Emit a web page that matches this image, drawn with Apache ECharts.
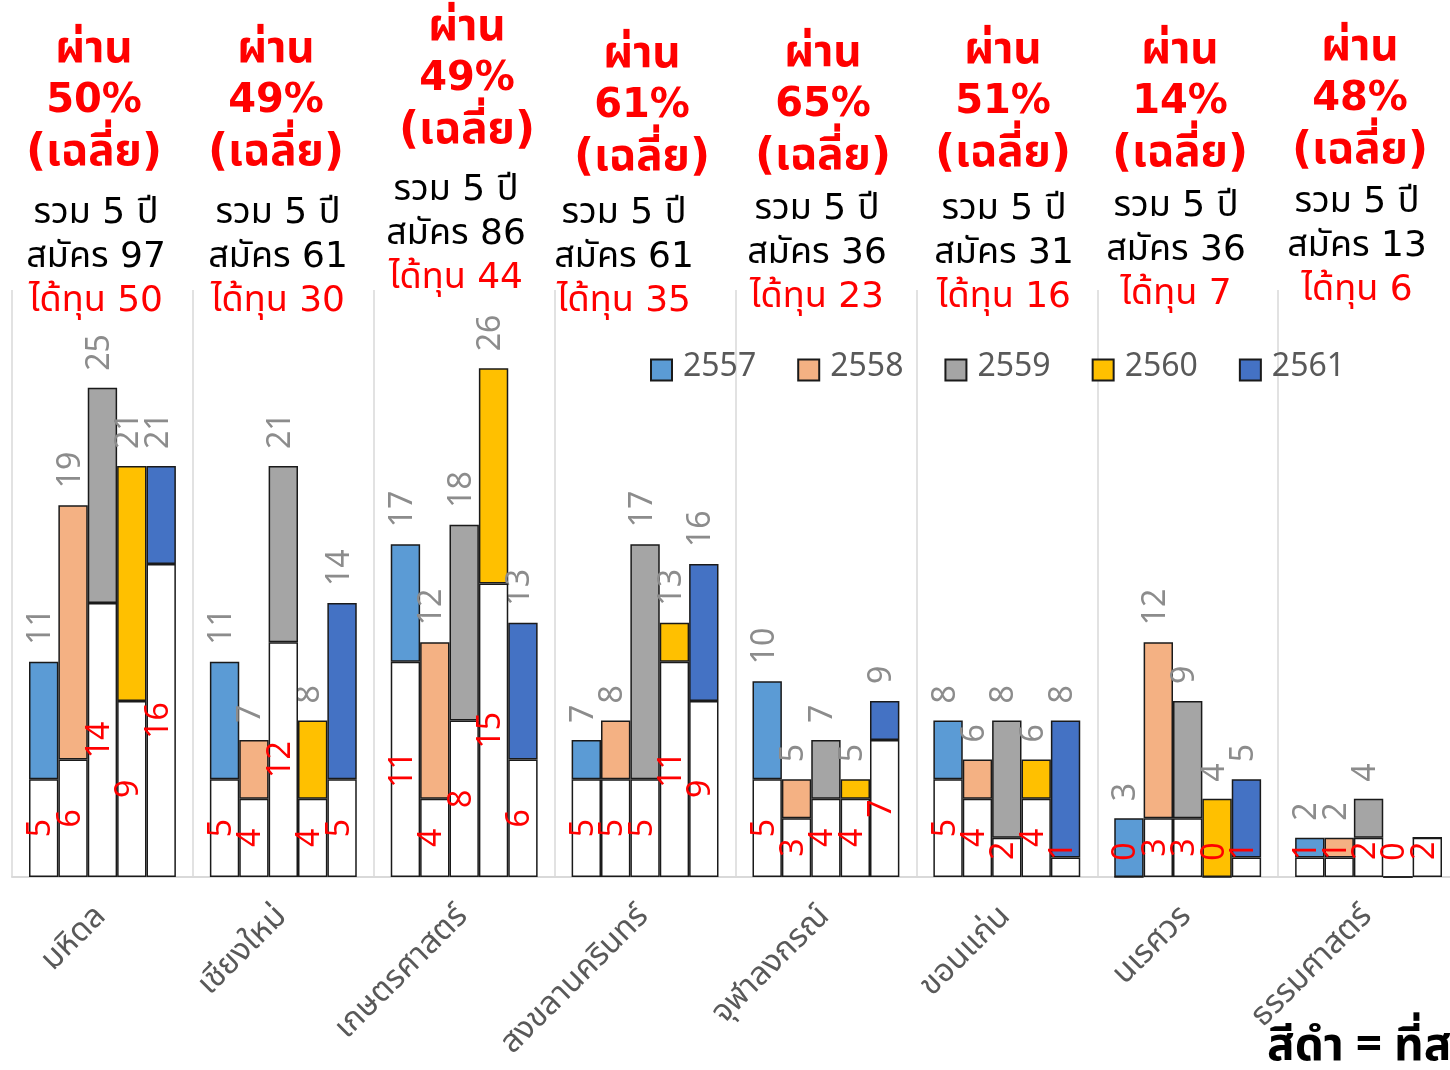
<!DOCTYPE html>
<html>
<head>
<meta charset="utf-8">
<script src="https://cdn.jsdelivr.net/npm/echarts@6/dist/echarts.min.js"></script>
<style>
html,body{margin:0;padding:0;background:#fff;}
#chart{width:1450px;height:1070px;}
</style>
</head>
<body>
<div id="chart"></div>
<script>
// มหาวิทยาลัย (แกน x)
var universities = ['มหิดล', 'เชียงใหม่', 'เกษตรศาสตร์', 'สงขลานครินทร์', 'จุฬาลงกรณ์', 'ขอนแก่น', 'นเรศวร', 'ธรรมศาสตร์'];
var years = ['2557', '2558', '2559', '2560', '2561'];

// จำนวนสมัคร แต่ละปี
var applied2557 = [11, 11, 17, 7, 10, 8, 3, 2];
var applied2558 = [19, 7, 12, 8, 5, 6, 12, 2];
var applied2559 = [25, 21, 18, 17, 7, 8, 9, 4];
var applied2560 = [21, 8, 26, 13, 5, 6, 4, 0];
var applied2561 = [21, 14, 13, 16, 9, 8, 5, 2];

// จำนวนได้ทุน แต่ละปี
var granted2557 = [5, 5, 11, 5, 5, 5, 0, 1];
var granted2558 = [6, 4, 4, 5, 3, 4, 3, 1];
var granted2559 = [14, 12, 8, 5, 4, 2, 3, 2];
var granted2560 = [9, 4, 15, 11, 4, 4, 0, 0];
var granted2561 = [16, 5, 6, 9, 7, 1, 1, 2];

// ข้อความสรุปด้านบน
var passRate = ['50%', '49%', '49%', '61%', '65%', '51%', '14%', '48%'];
var totalApplied = [97, 61, 86, 61, 36, 31, 36, 13];
var totalGranted = [50, 30, 44, 35, 23, 16, 7, 6];

var applied = [applied2557, applied2558, applied2559, applied2560, applied2561];
var granted = [granted2557, granted2558, granted2559, granted2560, granted2561];
var colors = ['#5B9BD5', '#F4B183', '#A5A5A5', '#FFC000', '#4472C4'];

var FONT = "Tahoma, 'Noto Sans Thai', 'Noto Sans', sans-serif";
var WIDE = "'DejaVu Sans', 'Noto Sans Thai', sans-serif";

// ตำแหน่งกล่องข้อความแต่ละกลุ่ม (วางเองเหมือนต้นฉบับ)
var noteLayout = {
    redX: [94, 276, 467, 642, 823, 1003, 1180, 1360],
    redY: [51, 51, 29, 56, 55, 52, 52, 49],
    infoX: [96, 278, 456, 624, 817, 1004, 1176, 1357],
    infoY: [214, 214, 191, 214, 210, 210, 207, 203]
};

function passLabel(v) {
    // แท่งเตี้ยๆ ป้ายจะถูกดันขึ้นไม่ให้ทะลุแกน
    if (v <= 2) {
        return {position: 'insideBottom', distance: 17, align: 'left', verticalAlign: 'middle'};
    }
    return {position: 'inside', align: 'center', verticalAlign: 'middle'};
}

var series = [];
for (var i = 0; i < years.length; i++) {
    (function (i) {
        series.push({
            name: 'ได้ทุน ' + years[i],
            type: 'bar',
            stack: 's' + i,
            z: 3,
            barGap: '0%',
            barCategoryGap: '18.8%',
            itemStyle: {color: '#ffffff', borderColor: '#1a1a1a', borderWidth: 1.5},
            data: granted[i].map(function (v) {
                var l = passLabel(v);
                l.show = true;
                l.rotate = 90;
                l.color = '#ff0000';
                l.fontSize = 32;
                l.fontFamily = FONT;
                return {value: v, label: l};
            })
        });
        series.push({
            name: years[i],
            type: 'bar',
            stack: 's' + i,
            barGap: '0%',
            barCategoryGap: '18.8%',
            itemStyle: {color: colors[i], borderColor: '#1a1a1a', borderWidth: 1.5},
            label: {
                show: true,
                position: 'top',
                distance: 17,
                rotate: 90,
                align: 'left',
                verticalAlign: 'middle',
                color: '#8c8c8c',
                fontSize: 32,
                fontFamily: FONT,
                formatter: function (p) {
                    return applied[i][p.dataIndex] > granted[i][p.dataIndex] ? String(applied[i][p.dataIndex]) : '';
                }
            },
            data: applied[i].map(function (v, k) { return v - granted[i][k]; })
        });
    })(i);
}

var graphics = [];
for (var k = 0; k < universities.length; k++) {
    var rx = noteLayout.redX[k], ry = noteLayout.redY[k];
    var ix = noteLayout.infoX[k], iy = noteLayout.infoY[k];
    var lines = [
        {t: 'ผ่าน', x: rx, y: ry, f: 'bold 44px ' + WIDE, c: '#ff0000'},
        {t: passRate[k], x: rx, y: ry + 51, f: 'bold 40px ' + WIDE, c: '#ff0000'},
        {t: '(เฉลี่ย)', x: rx, y: ry + 103, f: 'bold 44px ' + WIDE, c: '#ff0000'},
        {t: 'รวม 5 ปี', x: ix, y: iy, f: '36px ' + WIDE, c: '#000000'},
        {t: 'สมัคร ' + totalApplied[k], x: ix, y: iy + 44, f: '36px ' + WIDE, c: '#000000'},
        {t: 'ได้ทุน ' + totalGranted[k], x: ix, y: iy + 88, f: '36px ' + WIDE, c: '#ff0000'}
    ];
    lines.forEach(function (ln) {
        graphics.push({
            type: 'text', x: ln.x, y: ln.y, z: 10,
            style: {text: ln.t, font: ln.f, fill: ln.c, align: 'center', verticalAlign: 'middle'}
        });
    });
}
graphics.push({
    type: 'text', x: 1267, y: 1051, z: 10,
    style: {
        text: 'สีดำ = ที่ส', font: 'bold 46px ' + FONT, fill: '#000000',
        align: 'left', verticalAlign: 'middle',
        shadowColor: 'rgba(0,0,0,0.35)', shadowOffsetX: 1, shadowOffsetY: 1, shadowBlur: 2
    }
});

var chart = echarts.init(document.getElementById('chart'));
chart.setOption({
    animation: false,
    backgroundColor: '#ffffff',
    textStyle: {fontFamily: FONT},
    grid: {left: 12, width: 1447, top: 290, bottom: 193, outerBoundsMode: 'none', containLabel: false},
    legend: {
        data: years,
        left: 645,
        top: 349,
        icon: 'rect',
        itemWidth: 21,
        itemHeight: 21,
        itemGap: 41,
        textStyle: {fontSize: 32, color: '#595959', fontFamily: FONT, padding: [0, 0, 0, 6]}
    },
    xAxis: {
        type: 'category',
        data: universities,
        axisLine: {lineStyle: {color: '#d9d9d9', width: 2}},
        axisTick: {show: false},
        splitLine: {show: true, lineStyle: {color: '#d9d9d9', width: 1.5}},
        axisLabel: {rotate: 45, fontSize: 32, color: '#595959', margin: 36, fontFamily: FONT}
    },
    yAxis: {type: 'value', min: 0, max: 30, show: false},
    series: series,
    graphic: graphics
});
</script>
</body>
</html>
